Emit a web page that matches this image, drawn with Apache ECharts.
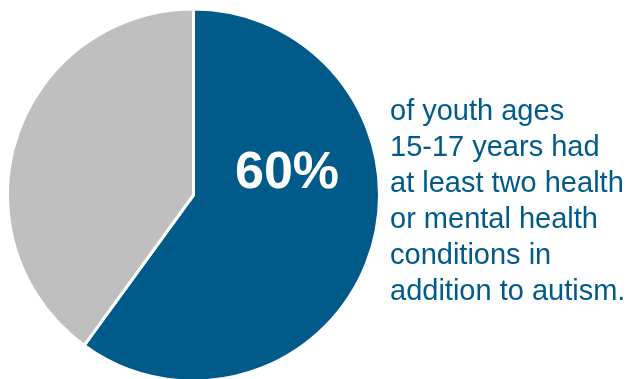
<!DOCTYPE html>
<html><head><meta charset="utf-8">
<script src="https://cdn.jsdelivr.net/npm/echarts@6/dist/echarts.min.js"></script>
<style>html,body{margin:0;padding:0;background:#fff}#c{width:631px;height:379px}</style>
</head><body><div id="c"></div>
<script>
const categories = ['Two or more conditions', 'Other'];
const values = [60, 40];
const colors = ['#005a8a', '#bfbfbf'];
const descLines = ['of youth ages', '15-17 years had', 'at least two health', 'or mental health', 'conditions in', 'addition to autism.'];

const chart = echarts.init(document.getElementById('c'), null, {renderer: 'canvas'});
chart.setOption({
  animation: false,
  series: [{
    type: 'pie',
    center: [193.5, 195],
    radius: [0, 186],
    startAngle: 90,
    clockwise: true,
    label: {show: false},
    labelLine: {show: false},
    itemStyle: {borderColor: '#ffffff', borderWidth: 3},
    emphasis: {disabled: true},
    data: categories.map((n, i) => ({name: n, value: values[i], itemStyle: {color: colors[i]}}))
  }],
  graphic: [
    {type: 'text', z: 100, left: 235, top: 148, style: {text: values[0] + '%', fill: '#ffffff', font: 'bold 52px "Liberation Sans", Arial, sans-serif'}},
    {type: 'text', z: 100, left: 390, top: 94, style: {text: descLines.join('\n'), fill: '#005a8a', font: '29px "Liberation Sans", Arial, sans-serif', lineHeight: 36}}
  ]
});
</script></body></html>
